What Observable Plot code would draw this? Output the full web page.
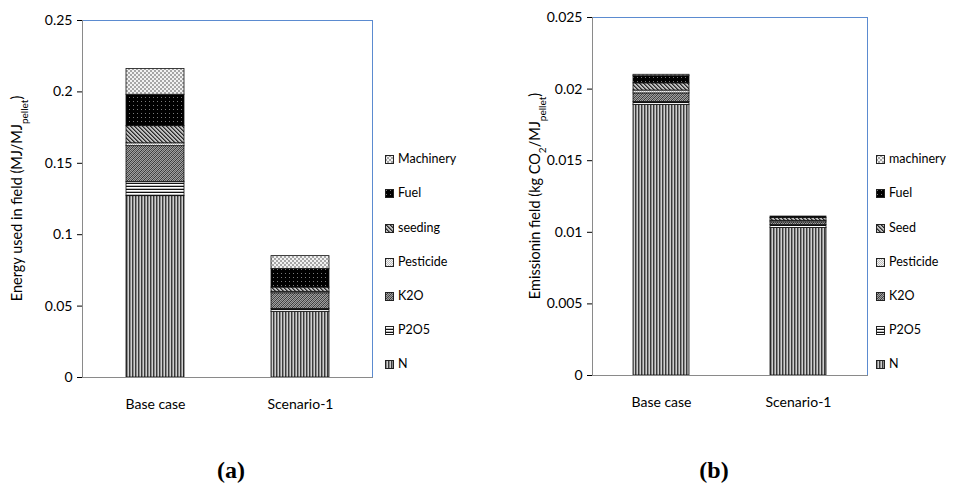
<!DOCTYPE html>
<html><head><meta charset="utf-8">
<script src="https://cdn.jsdelivr.net/npm/d3@7"></script>
<script src="https://cdn.jsdelivr.net/npm/@observablehq/plot@0.6"></script>
<style>
body{margin:0;background:#fff;width:968px;height:504px;position:relative;overflow:hidden;font-family:Lato,sans-serif;}
.panel{position:absolute;top:0;}
.legend{position:absolute;top:0;font-family:Lato,sans-serif;font-size:12.5px;color:#000;}
.legend .item{position:absolute;white-space:nowrap;height:14px;line-height:14px;}
.legend svg{position:absolute;left:0;top:3px;}
.legend span{position:absolute;left:13px;top:0;}
.cap{position:absolute;font-family:"Liberation Serif",serif;font-weight:bold;font-size:24px;transform:translate(-50%,-50%);}
</style></head><body>
<svg width="0" height="0" style="position:absolute;left:0;top:0"><defs>
  <pattern id="pN" patternUnits="userSpaceOnUse" width="3" height="4" shape-rendering="crispEdges">
    <rect width="3" height="4" fill="#8c8c8c"/><rect x="0" width="1" height="4" fill="#3a3a3a"/><rect x="2" width="1" height="4" fill="#cfcfcf"/>
  </pattern>
  <pattern id="pP" patternUnits="userSpaceOnUse" width="4" height="3" shape-rendering="crispEdges">
    <rect width="4" height="3" fill="#ffffff"/><rect y="0" width="4" height="1" fill="#111"/><rect y="2" width="4" height="1" fill="#bbb"/>
  </pattern>
  <pattern id="pK" patternUnits="userSpaceOnUse" width="4" height="4" shape-rendering="crispEdges">
    <rect width="4" height="4" fill="#a0a0a0"/>
    <rect x="3" y="0" width="1" height="1" fill="#3a3a3a"/><rect x="2" y="1" width="1" height="1" fill="#3a3a3a"/>
    <rect x="1" y="2" width="1" height="1" fill="#3a3a3a"/><rect x="0" y="3" width="1" height="1" fill="#3a3a3a"/>
    <rect x="1" y="0" width="1" height="1" fill="#5e5e5e"/><rect x="0" y="1" width="1" height="1" fill="#5e5e5e"/>
    <rect x="3" y="2" width="1" height="1" fill="#5e5e5e"/><rect x="2" y="3" width="1" height="1" fill="#5e5e5e"/>
  </pattern>
  <pattern id="pPe" patternUnits="userSpaceOnUse" width="2" height="2" shape-rendering="crispEdges">
    <rect width="2" height="2" fill="#f4f4f4"/><rect x="0" y="0" width="1" height="1" fill="#bdbdbd"/><rect x="1" y="1" width="1" height="1" fill="#bdbdbd"/>
  </pattern>
  <pattern id="pS" patternUnits="userSpaceOnUse" width="4" height="4" shape-rendering="crispEdges">
    <rect width="4" height="4" fill="#c0c0c0"/>
    <rect x="0" y="0" width="1" height="1" fill="#2a2a2a"/><rect x="1" y="1" width="1" height="1" fill="#2a2a2a"/>
    <rect x="2" y="2" width="1" height="1" fill="#2a2a2a"/><rect x="3" y="3" width="1" height="1" fill="#2a2a2a"/>
    <rect x="1" y="0" width="1" height="1" fill="#6a6a6a"/><rect x="2" y="1" width="1" height="1" fill="#6a6a6a"/>
    <rect x="3" y="2" width="1" height="1" fill="#6a6a6a"/><rect x="0" y="3" width="1" height="1" fill="#6a6a6a"/>
  </pattern>
  <pattern id="pF" patternUnits="userSpaceOnUse" width="4" height="4" shape-rendering="crispEdges">
    <rect width="4" height="4" fill="#000"/><rect x="1" y="1" width="1" height="1" fill="#7a7a7a"/>
  </pattern>
  <pattern id="pM" patternUnits="userSpaceOnUse" width="4" height="4" shape-rendering="crispEdges">
    <rect width="4" height="4" fill="#f2f2f2"/><rect x="0" y="0" width="2" height="2" fill="#a6a6a6"/><rect x="2" y="2" width="2" height="2" fill="#a6a6a6"/>
  </pattern>
</defs></svg>

<div id="a" class="panel" style="left:0px"></div>
<div id="b" class="panel" style="left:500px"></div>
<div id="legA" class="legend" style="left:385px"></div>
<div id="legB" class="legend" style="left:876px"></div>
<div class="cap" style="left:231px;top:470px">(a)</div>
<div class="cap" style="left:714px;top:470px">(b)</div>

<script>
// ---- data ----
const cases = ["Base case", "Scenario-1"];

// panel (a): energy used in field (MJ/MJ_pellet), stack order bottom -> top
const energyComponents = ["N", "P2O5", "K2O", "Pesticide", "seeding", "Fuel", "Machinery"];
const energyBaseCase   = [0.127, 0.010, 0.025, 0.002, 0.012, 0.022, 0.018];
const energyScenario1  = [0.046, 0.002, 0.011, 0.001, 0.003, 0.013, 0.009];
const energyTicks = [0, 0.05, 0.1, 0.15, 0.2, 0.25];

// panel (b): emission in field (kg CO2/MJ_pellet), stack order bottom -> top
const emissionComponents = ["N", "P2O5", "K2O", "Pesticide", "Seed", "Fuel", "machinery"];
const emissionBaseCase   = [0.0189, 0.0002, 0.0006, 0.0002, 0.0005, 0.0005, 0.0001];
const emissionScenario1  = [0.0103, 0.0002, 0.0002, 0.0001, 0.0002, 0.0001, 0.0000];
const emissionTicks = [0, 0.005, 0.01, 0.015, 0.02, 0.025];

// pattern fill per stack position (style)
const patterns = ["url(#pN)", "url(#pP)", "url(#pK)", "url(#pPe)", "url(#pS)", "url(#pF)", "url(#pM)"];

function rowsFor(comps, seriesList) {
  const rows = [];
  seriesList.forEach((vals, i) => vals.forEach((v, j) => rows.push({case: cases[i], comp: comps[j], idx: j, value: v})));
  return rows;
}

function frameAndLabel(labelParts, labelX) {
  return (index, scales, values, dims) => {
    const {width, height, marginLeft, marginRight, marginTop, marginBottom} = dims;
    const x0 = marginLeft, x1 = width - marginRight, y0 = marginTop, y1 = height - marginBottom;
    const g = d3.create("svg:g");
    g.append("line").attr("x1", x0).attr("x2", x1).attr("y1", y0 + 0.5).attr("y2", y0 + 0.5).attr("stroke", "#5b8bd0");
    g.append("line").attr("x1", x1 - 0.5).attr("x2", x1 - 0.5).attr("y1", y0).attr("y2", y1).attr("stroke", "#5b8bd0");
    g.append("line").attr("x1", x0 + 0.5).attr("x2", x0 + 0.5).attr("y1", y0).attr("y2", y1).attr("stroke", "#8a8a8a");
    g.append("line").attr("x1", x0).attr("x2", x1).attr("y1", y1 + 0.5).attr("y2", y1 + 0.5).attr("stroke", "#8a8a8a");
    const t = g.append("text")
      .attr("transform", `translate(${labelX},${(y0 + y1) / 2}) rotate(-90)`)
      .attr("text-anchor", "middle")
      .attr("font-size", 14.5).attr("fill", "#000");
    labelParts.forEach(([s, sub]) => {
      const ts = t.append("tspan").text(s);
      if (sub) ts.attr("font-size", 10).attr("baseline-shift", "sub");
    });
    return g.node();
  };
}

function chart(comps, seriesList, ticks, opts) {
  const rows = rowsFor(comps, seriesList);
  return Plot.plot({
    width: opts.width, height: 420,
    marginLeft: opts.marginLeft, marginRight: opts.marginRight,
    marginTop: opts.marginTop, marginBottom: opts.marginBottom,
    style: {fontFamily: "Lato, sans-serif", fontSize: "14px", color: "#000", background: "transparent", overflow: "visible"},
    x: {domain: cases, paddingInner: opts.paddingInner, paddingOuter: 0.3, label: null, tickSize: 0, tickPadding: 22},
    y: {domain: [ticks[0], ticks[ticks.length - 1]], ticks: ticks, tickFormat: d => String(d), label: null, tickSize: 5, tickPadding: 5},
    color: {type: "identity"},
    marks: [
      Plot.barY(rows, Plot.stackY({
        x: "case", y: "value", z: "comp", order: comps,
        fill: d => patterns[d.idx], stroke: "#111", strokeWidth: 0.8
      })),
      frameAndLabel(opts.label, opts.labelX)
    ]
  });
}

document.getElementById("a").append(chart(energyComponents, [energyBaseCase, energyScenario1], energyTicks, {
  width: 380, marginLeft: 82, marginRight: 7, marginTop: 20, marginBottom: 43, paddingInner: 0.6,
  label: [["Energy used in field (MJ/MJ"], ["pellet", true], [")"]], labelX: 22
}));
document.getElementById("b").append(chart(emissionComponents, [emissionBaseCase, emissionScenario1], emissionTicks, {
  width: 376, marginLeft: 92, marginRight: 8, marginTop: 17, marginBottom: 45, paddingInner: 0.59,
  label: [["Emissionin field (kg CO"], ["2", true], ["/MJ"], ["pellet", true], [")"]], labelX: 40
}));

function legend(el, comps, ys) {
  const order = comps.map((c, i) => i).reverse();
  order.forEach((i, k) => {
    const item = document.createElement("div");
    item.className = "item";
    item.style.top = (ys[k] - 7) + "px";
    item.innerHTML = `<svg width="9" height="9"><rect x="0.5" y="0.5" width="8" height="8" fill="${patterns[i]}" stroke="#222" stroke-width="1"/></svg><span></span>`;
    item.querySelector("span").textContent = comps[i];
    el.append(item);
  });
}
const legendY = [159, 193, 228, 262, 296, 330, 364];
legend(document.getElementById("legA"), energyComponents, legendY);
legend(document.getElementById("legB"), emissionComponents, legendY);
</script>
</body></html>
